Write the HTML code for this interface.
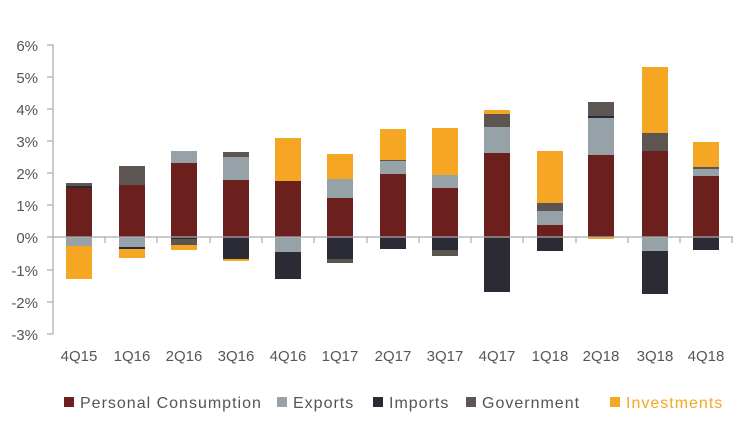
<!DOCTYPE html><html><head><style>body{margin:0;background:#fff}svg{font-family:"Liberation Sans",sans-serif}</style></head><body>
<svg width="750" height="421" xmlns="http://www.w3.org/2000/svg">
<g fill="#555" font-size="15" text-anchor="end">
<text x="38" y="51">6%</text><text x="38" y="83">5%</text><text x="38" y="115">4%</text><text x="38" y="147">3%</text><text x="38" y="179">2%</text><text x="38" y="211">1%</text><text x="38" y="243">0%</text><text x="38" y="276">-1%</text><text x="38" y="308">-2%</text><text x="38" y="340">-3%</text></g>
<g stroke="#aaa" stroke-width="1.2">
<line x1="53" y1="44" x2="53" y2="334"/>
<line x1="47" y1="45" x2="53" y2="45"/><line x1="47" y1="77" x2="53" y2="77"/><line x1="47" y1="109" x2="53" y2="109"/><line x1="47" y1="141" x2="53" y2="141"/><line x1="47" y1="173" x2="53" y2="173"/><line x1="47" y1="205" x2="53" y2="205"/><line x1="47" y1="237" x2="53" y2="237"/><line x1="47" y1="270" x2="53" y2="270"/><line x1="47" y1="302" x2="53" y2="302"/><line x1="47" y1="334" x2="53" y2="334"/>
</g>
<g>
<rect x="66" y="188" width="26" height="49" fill="#6b201d"/><rect x="66" y="186" width="26" height="2" fill="#2a2b35"/><rect x="66" y="183" width="26" height="3" fill="#5c5551"/><rect x="66" y="237" width="26" height="9" fill="#97a1a8"/><rect x="66" y="246" width="26" height="33" fill="#f5a623"/>
<rect x="119" y="166" width="26" height="19" fill="#5c5551"/><rect x="119" y="185" width="26" height="52" fill="#6b201d"/><rect x="119" y="237" width="26" height="10" fill="#97a1a8"/><rect x="119" y="247" width="26" height="2" fill="#2a2b35"/><rect x="119" y="249" width="26" height="9" fill="#f5a623"/>
<rect x="171" y="151" width="26" height="12" fill="#97a1a8"/><rect x="171" y="163" width="26" height="74" fill="#6b201d"/><rect x="171" y="237" width="26" height="2" fill="#2a2b35"/><rect x="171" y="239" width="26" height="6" fill="#5c5551"/><rect x="171" y="245" width="26" height="5" fill="#f5a623"/>
<rect x="223" y="152" width="26" height="5" fill="#5c5551"/><rect x="223" y="157" width="26" height="23" fill="#97a1a8"/><rect x="223" y="180" width="26" height="57" fill="#6b201d"/><rect x="223" y="237" width="26" height="22" fill="#2a2b35"/><rect x="223" y="259" width="26" height="2" fill="#f5a623"/>
<rect x="275" y="138" width="26" height="43" fill="#f5a623"/><rect x="275" y="181" width="26" height="56" fill="#6b201d"/><rect x="275" y="237" width="26" height="15" fill="#97a1a8"/><rect x="275" y="252" width="26" height="27" fill="#2a2b35"/>
<rect x="327" y="154" width="26" height="25" fill="#f5a623"/><rect x="327" y="179" width="26" height="19" fill="#97a1a8"/><rect x="327" y="198" width="26" height="39" fill="#6b201d"/><rect x="327" y="237" width="26" height="22" fill="#2a2b35"/><rect x="327" y="259" width="26" height="4" fill="#5c5551"/>
<rect x="380" y="129" width="26" height="31" fill="#f5a623"/><rect x="380" y="160" width="26" height="1" fill="#5c5551"/><rect x="380" y="161" width="26" height="13" fill="#97a1a8"/><rect x="380" y="174" width="26" height="63" fill="#6b201d"/><rect x="380" y="237" width="26" height="12" fill="#2a2b35"/>
<rect x="432" y="128" width="26" height="47" fill="#f5a623"/><rect x="432" y="175" width="26" height="13" fill="#97a1a8"/><rect x="432" y="188" width="26" height="49" fill="#6b201d"/><rect x="432" y="237" width="26" height="13" fill="#2a2b35"/><rect x="432" y="250" width="26" height="6" fill="#5c5551"/>
<rect x="484" y="110" width="26" height="4" fill="#f5a623"/><rect x="484" y="114" width="26" height="13" fill="#5c5551"/><rect x="484" y="127" width="26" height="26" fill="#97a1a8"/><rect x="484" y="153" width="26" height="84" fill="#6b201d"/><rect x="484" y="237" width="26" height="55" fill="#2a2b35"/>
<rect x="537" y="151" width="26" height="52" fill="#f5a623"/><rect x="537" y="203" width="26" height="8" fill="#5c5551"/><rect x="537" y="211" width="26" height="14" fill="#97a1a8"/><rect x="537" y="225" width="26" height="12" fill="#6b201d"/><rect x="537" y="237" width="26" height="14" fill="#2a2b35"/>
<rect x="588" y="102" width="26" height="14" fill="#5c5551"/><rect x="588" y="116" width="26" height="2" fill="#2a2b35"/><rect x="588" y="118" width="26" height="37" fill="#97a1a8"/><rect x="588" y="155" width="26" height="82" fill="#6b201d"/><rect x="588" y="237" width="26" height="2" fill="#f5a623"/>
<rect x="642" y="67" width="26" height="66" fill="#f5a623"/><rect x="642" y="133" width="26" height="18" fill="#5c5551"/><rect x="642" y="151" width="26" height="86" fill="#6b201d"/><rect x="642" y="237" width="26" height="14" fill="#97a1a8"/><rect x="642" y="251" width="26" height="43" fill="#2a2b35"/>
<rect x="693" y="142" width="26" height="25" fill="#f5a623"/><rect x="693" y="167" width="26" height="2" fill="#5c5551"/><rect x="693" y="169" width="26" height="7" fill="#97a1a8"/><rect x="693" y="176" width="26" height="61" fill="#6b201d"/><rect x="693" y="237" width="26" height="13" fill="#2a2b35"/>
</g>
<g stroke="#aaa" stroke-width="1.2">
<line x1="53" y1="237" x2="733" y2="237"/>
<line x1="105" y1="237" x2="105" y2="243"/><line x1="157" y1="237" x2="157" y2="243"/><line x1="210" y1="237" x2="210" y2="243"/><line x1="262" y1="237" x2="262" y2="243"/><line x1="314" y1="237" x2="314" y2="243"/><line x1="367" y1="237" x2="367" y2="243"/><line x1="419" y1="237" x2="419" y2="243"/><line x1="471" y1="237" x2="471" y2="243"/><line x1="523" y1="237" x2="523" y2="243"/><line x1="576" y1="237" x2="576" y2="243"/><line x1="628" y1="237" x2="628" y2="243"/><line x1="680" y1="237" x2="680" y2="243"/><line x1="732" y1="237" x2="732" y2="243"/>
</g>
<g fill="#555" font-size="15" text-anchor="middle">
<text x="79" y="361">4Q15</text><text x="132" y="361">1Q16</text><text x="184" y="361">2Q16</text><text x="236" y="361">3Q16</text><text x="288" y="361">4Q16</text><text x="340" y="361">1Q17</text><text x="393" y="361">2Q17</text><text x="445" y="361">3Q17</text><text x="497" y="361">4Q17</text><text x="550" y="361">1Q18</text><text x="601" y="361">2Q18</text><text x="655" y="361">3Q18</text><text x="706" y="361">4Q18</text>
</g>
<g font-size="16" fill="#555" letter-spacing="1">
<rect x="64" y="397" width="10" height="10" fill="#6b201d"/><text x="80" y="408">Personal Consumption</text>
<rect x="277" y="397" width="10" height="10" fill="#97a1a8"/><text x="293" y="408">Exports</text>
<rect x="373" y="397" width="10" height="10" fill="#2a2b35"/><text x="389" y="408">Imports</text>
<rect x="466" y="397" width="10" height="10" fill="#5c5551"/><text x="482" y="408">Government</text>
<rect x="610" y="397" width="10" height="10" fill="#f5a623"/><text x="626" y="408" fill="#f5a623">Investments</text>
</g>
</svg></body></html>
